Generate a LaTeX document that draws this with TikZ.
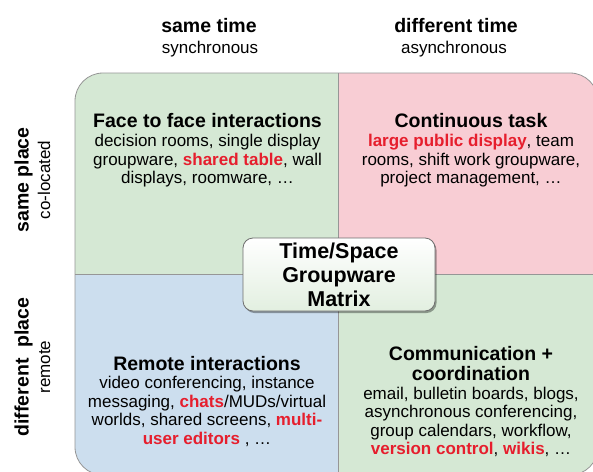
\documentclass[tikz,border=0pt]{standalone}
\usepackage{fontspec}
\setmainfont{Liberation Sans}
\usetikzlibrary{shadows}
\definecolor{qgreen}{RGB}{213,232,212}
\definecolor{qpink}{RGB}{248,205,212}
\definecolor{qblue}{RGB}{204,222,238}
\definecolor{hlred}{RGB}{230,30,45}
\definecolor{bordergray}{RGB}{150,150,150}
\definecolor{boxgray}{RGB}{110,110,110}
\definecolor{boxgreen}{RGB}{226,239,224}
\newcommand\redb[1]{\textcolor{hlred}{\bfseries #1}}
\begin{document}
\begin{tikzpicture}[x=1pt,y=-1pt,
  ttl/.style={anchor=base,inner sep=0pt,font=\bfseries\fontsize{19.5}{22}\selectfont},
  bdy/.style={anchor=base,inner sep=0pt,font=\fontsize{17}{19}\selectfont},
  side/.style={rotate=90},
  border/.style={draw=bordergray,line width=0.8pt},
  cbox/.style={draw=boxgray,line width=0.8pt,rounded corners=10pt,top color=white,bottom color=boxgreen,
    minimum width=192pt,minimum height=73pt,align=center,inner sep=0pt,
    drop shadow={shadow xshift=1.5pt,shadow yshift=-2pt,fill=black,opacity=0.35},
    font=\bfseries\fontsize{21.5}{24}\selectfont}]
\useasboundingbox (0,0) rectangle (593,471);
\clip (0,0) rectangle (593,471);
\fill[white] (0,0) rectangle (593,471);
% quadrants
\begin{scope}\clip (75,73) rectangle (338,274.5);
  \fill[qgreen,rounded corners=28pt] (75,73) rectangle (598,475);\end{scope}
\begin{scope}\clip (338,73) rectangle (598,274.5);
  \fill[qpink,rounded corners=28pt] (75,73) rectangle (598,475);\end{scope}
\begin{scope}\clip (75,274.5) rectangle (338,475);
  \fill[qblue,rounded corners=28pt] (75,73) rectangle (598,475);\end{scope}
\begin{scope}\clip (338,274.5) rectangle (598,475);
  \fill[qgreen,rounded corners=28pt] (75,73) rectangle (598,475);\end{scope}
\draw[border,rounded corners=28pt] (75,73) rectangle (598,475);
\draw[border] (338,73) -- (338,475);
\draw[border] (75,274.5) -- (598,274.5);
% headers
\node[ttl] (h1) at (209,32.5) {same time};
\node[bdy] (h1s) at (210,53) {synchronous};
\node[ttl] (h2) at (456,32.5) {different time};
\node[bdy] (h2s) at (454,53) {asynchronous};
\node[ttl,side] (v1) at (28.5,180) {same place};
\node[bdy,side] (v1s) at (50,180) {co-located};
\node[ttl,side] (v2) at (28.5,367) {different\ \ place};
\node[bdy,side] (v2s) at (50,367) {remote};
% top-left
\node[ttl] (q1t) at (207.5,127.5) {Face to face interactions};
\node[bdy] (q1a) at (207.5,146.5) {decision rooms, single display};
\node[bdy] (q1b) at (207.5,165) {groupware, \redb{shared table}, wall};
\node[bdy] (q1c) at (207.5,183.5) {displays, roomware, …};
% top-right
\node[ttl] (q2t) at (471,127.5) {Continuous task};
\node[bdy] (q2a) at (471,146.5) {\redb{large public display}, team};
\node[bdy] (q2b) at (471,165) {rooms, shift work groupware,};
\node[bdy] (q2c) at (471,183.5) {project management, …};
% bottom-left
\node[ttl] (q3t) at (207,370) {Remote interactions};
\node[bdy] (q3a) at (207,388.5) {video conferencing, instance};
\node[bdy] (q3b) at (207,407) {messaging, \redb{chats}/MUDs/virtual};
\node[bdy] (q3c) at (207,425.5) {worlds, shared screens, \redb{multi-}};
\node[bdy] (q3d) at (207,444) {\redb{user editors} , …};
% bottom-right
\node[ttl] (q4t) at (471,360) {Communication +};
\node[ttl] (q4u) at (471,380) {coordination};
\node[bdy] (q4a) at (471,399) {email, bulletin boards, blogs,};
\node[bdy] (q4b) at (471,417.5) {asynchronous conferencing,};
\node[bdy] (q4c) at (471,436) {group calendars, workflow,};
\node[bdy] (q4d) at (471,454) {\redb{version control}, \redb{wikis}, …};
% centre box
\node[cbox] (centre) at (339,274.5) {Time/Space\\Groupware\\Matrix};
\end{tikzpicture}
\end{document}
